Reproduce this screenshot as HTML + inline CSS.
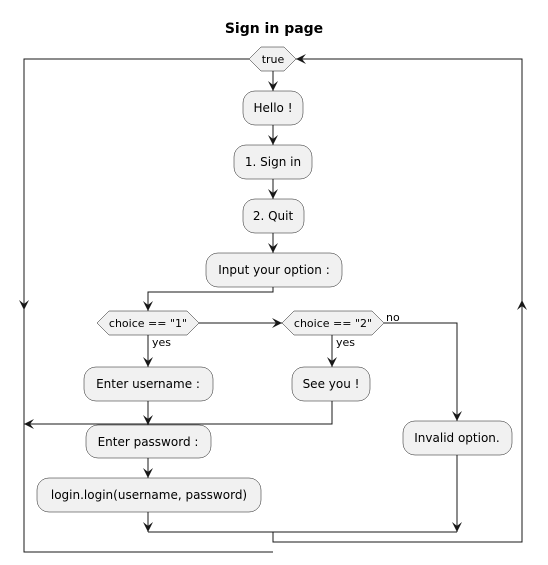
<!DOCTYPE html>
<html><head><meta charset="utf-8"><style>
html,body{margin:0;padding:0;background:#fff;}
svg{display:block;}
text{font-family:"DejaVu Sans","Liberation Sans",sans-serif;fill:#000;}
</style></head><body>
<svg width="548" height="565" viewBox="0 0 548 565" xmlns="http://www.w3.org/2000/svg">
<defs>
<marker id="a" viewBox="0 0 10 10" refX="10" refY="5" markerWidth="10" markerHeight="10" markerUnits="userSpaceOnUse" orient="auto">
<path d="M0,0 L10,5 L0,10 L4,5 Z" fill="#181818"/>
</marker>
</defs>
<text x="274" y="33" text-anchor="middle" font-size="14" font-weight="bold">Sign in page</text>
<g fill="none" stroke="#181818" stroke-width="1">
<!-- loop lines -->
<polyline points="249,59 24,59 24,552 273,552"/>
<line x1="24" y1="200" x2="24" y2="310" marker-end="url(#a)"/>
<polyline points="273,532 273,542 522,542 522,59 296,59" marker-end="url(#a)"/>
<line x1="522" y1="400" x2="522" y2="300" marker-end="url(#a)"/>
<!-- main column -->
<line x1="273" y1="71" x2="273" y2="91" marker-end="url(#a)"/>
<line x1="273" y1="125" x2="273" y2="145" marker-end="url(#a)"/>
<line x1="273" y1="179" x2="273" y2="199" marker-end="url(#a)"/>
<line x1="273" y1="233" x2="273" y2="253" marker-end="url(#a)"/>
<polyline points="273,287 273,292 148,292 148,311" marker-end="url(#a)"/>
<line x1="199" y1="323" x2="282" y2="323" marker-end="url(#a)"/>
<line x1="148" y1="335" x2="148" y2="367" marker-end="url(#a)"/>
<line x1="332" y1="335" x2="332" y2="367" marker-end="url(#a)"/>
<polyline points="384,323 457,323 457,421" marker-end="url(#a)"/>
<line x1="148" y1="401" x2="148" y2="425" marker-end="url(#a)"/>
<polyline points="332,401 332,424 24,424" marker-end="url(#a)"/>
<line x1="148" y1="458" x2="148" y2="478" marker-end="url(#a)"/>
<line x1="148" y1="512" x2="148" y2="532" marker-end="url(#a)"/>
<line x1="457" y1="455" x2="457" y2="532" marker-end="url(#a)"/>
<line x1="148" y1="532" x2="457" y2="532"/>
</g>
<g fill="#F1F1F1" stroke="#181818" stroke-width="0.5">
<polygon points="249,59 261,47 284,47 296,59 284,71 261,71"/>
<polygon points="97,323 109,311 187,311 199,323 187,335 109,335"/>
<polygon points="282,323 294,311 372,311 384,323 372,335 294,335"/>
<rect x="243" y="91" width="60" height="34" rx="12"/>
<rect x="234" y="145" width="78" height="34" rx="12"/>
<rect x="243" y="199" width="61" height="34" rx="12"/>
<rect x="206" y="253" width="136" height="34" rx="12"/>
<rect x="84" y="367" width="129" height="34" rx="12"/>
<rect x="292" y="367" width="78" height="34" rx="12"/>
<rect x="403" y="421" width="109" height="34" rx="12"/>
<rect x="86" y="425" width="125" height="33" rx="12"/>
<rect x="37" y="478" width="224" height="34" rx="12"/>
</g>
<g font-size="11" text-anchor="middle">
<text x="273" y="63">true</text>
<text x="148" y="327">choice == "1"</text>
<text x="333" y="327">choice == "2"</text>
</g>
<g font-size="11">
<text x="152" y="346">yes</text>
<text x="336" y="346">yes</text>
<text x="386" y="321">no</text>
</g>
<g font-size="12" text-anchor="middle">
<text x="273" y="112">Hello !</text>
<text x="273" y="166">1. Sign in</text>
<text x="273" y="220">2. Quit</text>
<text x="274" y="274">Input your option :</text>
<text x="148" y="388">Enter username :</text>
<text x="331" y="388">See you !</text>
<text x="457" y="442">Invalid option.</text>
<text x="148" y="446">Enter password :</text>
<text x="149" y="499">login.login(username, password)</text>
</g>
</svg>
</body></html>
